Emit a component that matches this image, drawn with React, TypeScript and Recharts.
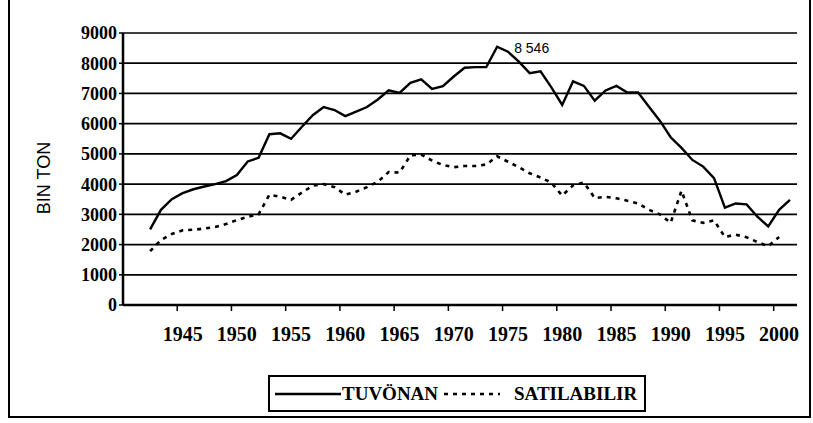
import React from "react";
import { LineChart, Line, XAxis, YAxis, CartesianGrid } from "recharts";

const YEARS = [
  1942, 1943, 1944, 1945, 1946, 1947, 1948, 1949, 1950, 1951,
  1952, 1953, 1954, 1955, 1956, 1957, 1958, 1959, 1960, 1961,
  1962, 1963, 1964, 1965, 1966, 1967, 1968, 1969, 1970, 1971,
  1972, 1973, 1974, 1975, 1976, 1977, 1978, 1979, 1980, 1981,
  1982, 1983, 1984, 1985, 1986, 1987, 1988, 1989, 1990, 1991,
  1992, 1993, 1994, 1995, 1996, 1997, 1998, 1999, 2000, 2001,
];

// tüvenan (run-of-mine) production, thousand tons
const TUVONAN = [
  2500, 3150, 3500, 3700, 3830, 3920, 4000, 4100, 4300, 4750,
  4870, 5650, 5680, 5500, 5900, 6280, 6550, 6450, 6250, 6400,
  6550, 6800, 7100, 7020, 7350, 7470, 7150, 7240, 7560, 7850,
  7870, 7870, 8546, 8380, 8050, 7670, 7730, 7200, 6620, 7400,
  7250, 6760, 7100, 7250, 7030, 7030, 6560, 6100, 5550, 5200,
  4800, 4580, 4200, 3220, 3360, 3330, 2920, 2600, 3150, 3480,
];

// saleable production, thousand tons (no value for 2001)
const SATILABILIR = [
  1780, 2150, 2350, 2470, 2490, 2530, 2580, 2680, 2810, 2920,
  3000, 3650, 3580, 3480, 3720, 3950, 4000, 3900, 3650, 3750,
  3900, 4080, 4400, 4380, 4950, 4980, 4780, 4630, 4560, 4600,
  4600, 4650, 4920, 4740, 4560, 4360, 4220, 4050, 3620, 3960,
  4050, 3540, 3580, 3530, 3450, 3360, 3150, 3000, 2720, 3780,
  2800, 2720, 2800, 2250, 2330, 2240, 2080, 1950, 2250, null,
];

const X_LABELS = [1945, 1950, 1955, 1960, 1965, 1970, 1975, 1980, 1985, 1990, 1995, 2000];
const Y_TICKS = [0, 1000, 2000, 3000, 4000, 5000, 6000, 7000, 8000, 9000];

const data = YEARS.map((year, i) => ({
  year,
  tuvonan: TUVONAN[i],
  satilabilir: SATILABILIR[i],
}));

const peakIndex = TUVONAN.indexOf(Math.max(...TUVONAN));

const WIDTH = 813;
const HEIGHT = 423;
const MARGIN = { top: 33, right: 16, left: 63, bottom: 78 };
const Y_AXIS_W = 60;
const X_DOMAIN = [1939.5, 2001.65];
const PLOT_W = WIDTH - MARGIN.left - MARGIN.right - Y_AXIS_W;
const HALF_YEAR = PLOT_W / (X_DOMAIN[1] - X_DOMAIN[0]) / 2;

const SERIF = "'Liberation Serif', 'Times New Roman', serif";
const SANS = "'Liberation Sans', Arial, sans-serif";

// ticks sit on category boundaries, labels on the category itself
const X_TICKS = X_LABELS.map((y) => y - 0.5);

function YearTick({ x, y, payload }: any) {
  return (
    <text
      x={x + HALF_YEAR}
      y={y + 30}
      textAnchor="middle"
      fontFamily={SERIF}
      fontSize={20}
      fontWeight="bold"
      fill="#000"
    >
      {Math.round(payload.value + 0.5)}
    </text>
  );
}

function PeakLabel({ x, y, index }: any) {
  if (index !== peakIndex) return null;
  return (
    <text x={x + 17} y={y + 6} fontFamily={SANS} fontSize={14} fill="#000">
      8 546
    </text>
  );
}

export default function App() {
  return (
    <div
      style={{
        position: "absolute",
        left: 0,
        top: 0,
        width: WIDTH,
        height: HEIGHT,
        background: "#fff",
        overflow: "hidden",
      }}
    >
      {/* outer frame */}
      <div
        style={{
          position: "absolute",
          left: 8,
          top: -4,
          width: 803,
          height: 422,
          borderLeft: "2px solid #000",
          borderRight: "2px solid #000",
          borderBottom: "2px solid #000",
          boxSizing: "border-box",
        }}
      />

      <div style={{ position: "absolute", left: 0, top: 0 }}>
        <LineChart width={WIDTH} height={HEIGHT} data={data} margin={MARGIN}>
          <CartesianGrid vertical={false} stroke="#000" strokeWidth={1.7} />
          <XAxis
            dataKey="year"
            type="number"
            domain={X_DOMAIN}
            ticks={X_TICKS}
            height={40}
            tickSize={6}
            tickMargin={0}
            tick={<YearTick />}
            tickLine={{ stroke: "#000", strokeWidth: 1.5 }}
            axisLine={{ stroke: "#000", strokeWidth: 2.5 }}
            interval={0}
          />
          <YAxis
            domain={[0, 9000]}
            ticks={Y_TICKS}
            width={Y_AXIS_W}
            tickSize={4}
            tickMargin={2}
            interval={0}
            tick={{ fontFamily: SERIF, fontSize: 18, fontWeight: "bold", fill: "#000" }}
            tickLine={{ stroke: "#000", strokeWidth: 1.5 }}
            axisLine={{ stroke: "#000", strokeWidth: 2.5 }}
          />
          <YAxis
            yAxisId="frame"
            orientation="right"
            width={0}
            tick={false}
            tickLine={false}
            axisLine={{ stroke: "#000", strokeWidth: 3 }}
          />
          <XAxis
            xAxisId="top"
            orientation="top"
            height={0}
            tick={false}
            tickLine={false}
            axisLine={{ stroke: "#000", strokeWidth: 2.5 }}
          />
          <Line
            dataKey="tuvonan"
            type="linear"
            stroke="#000"
            strokeWidth={2.4}
            dot={false}
            label={<PeakLabel />}
            isAnimationActive={false}
          />
          <Line
            dataKey="satilabilir"
            type="linear"
            stroke="#000"
            strokeWidth={2.6}
            strokeDasharray="4 5"
            dot={false}
            isAnimationActive={false}
          />
        </LineChart>
      </div>

      {/* axis title */}
      <div
        style={{
          position: "absolute",
          left: 44,
          top: 178,
          transform: "translate(-50%, -50%) rotate(-90deg)",
          fontFamily: SANS,
          fontSize: 18,
          color: "#000",
          whiteSpace: "nowrap",
        }}
      >
        BIN TON
      </div>

      {/* legend */}
      <div
        style={{
          position: "absolute",
          left: 268,
          top: 375,
          width: 378,
          height: 37,
          border: "2px solid #000",
          boxSizing: "border-box",
          fontFamily: SERIF,
          fontSize: 19,
          fontWeight: "bold",
          color: "#000",
        }}
      >
        <svg
          width={66}
          height={6}
          style={{ position: "absolute", left: 5, top: 14 }}
        >
          <line x1={0} y1={3} x2={66} y2={3} stroke="#000" strokeWidth={2.4} />
        </svg>
        <span style={{ position: "absolute", left: 72, top: 6 }}>TUVÖNAN</span>
        <svg
          width={56}
          height={6}
          style={{ position: "absolute", left: 174, top: 14 }}
        >
          <line
            x1={0}
            y1={3}
            x2={56}
            y2={3}
            stroke="#000"
            strokeWidth={2.6}
            strokeDasharray="4 5"
          />
        </svg>
        <span style={{ position: "absolute", left: 244, top: 6 }}>SATILABILIR</span>
      </div>
    </div>
  );
}
